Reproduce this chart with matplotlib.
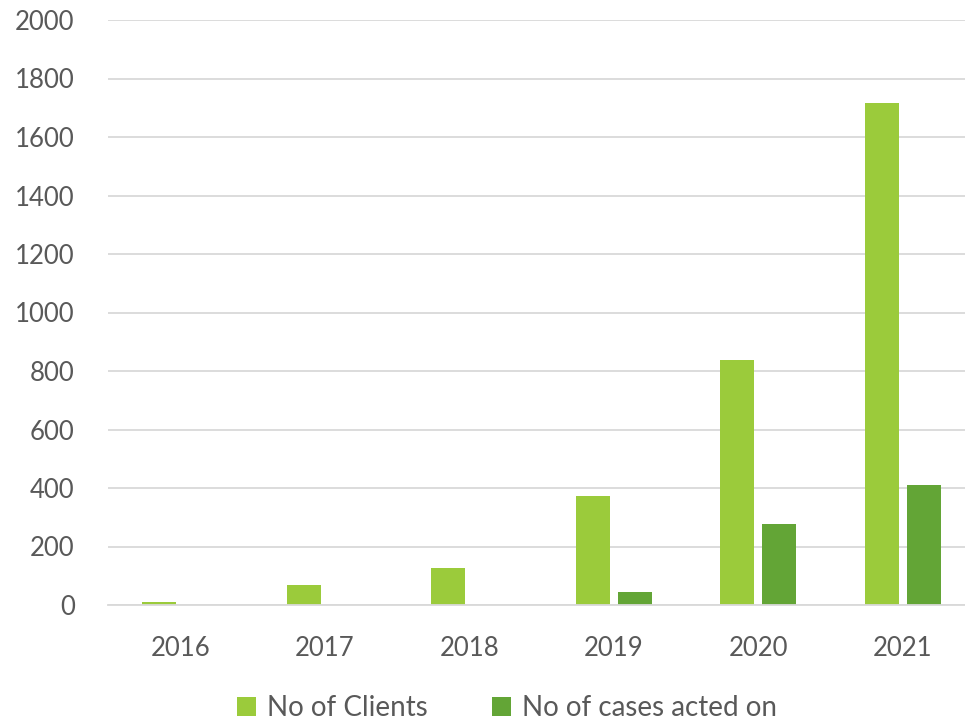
import matplotlib
matplotlib.use("Agg")
import matplotlib.pyplot as plt
import numpy as np

plt.rcParams.update({"font.family": ["Lato", "DejaVu Sans"], "font.size": 13})

years = ["2016", "2017", "2018", "2019", "2020", "2021"]
clients = [9, 68, 125, 373, 839, 1716]
cases = [0, 0, 0, 44, 278, 409]

LIGHT = "#9BCB3B"
DARK = "#63A536"
GRID = "#D9D9D9"
TXT = "#595959"

fig = plt.figure(figsize=(9.65, 7.22), dpi=100)
ax = fig.add_axes([108 / 965, 117 / 722, 867 / 965, 585 / 722])

x = np.arange(len(years))
w = 0.235
off = 0.145
ax.bar(x - off, clients, w, color=LIGHT, label="No of Clients", zorder=2)
ax.bar(x + off, cases, w, color=DARK, label="No of cases acted on", zorder=2)

ax.set_xlim(-0.5, 5.5)
ax.set_ylim(0, 2000)
ax.set_yticks(range(0, 2001, 200))
ax.yaxis.grid(True, color=GRID, lw=1.3, zorder=0)
ax.set_axisbelow(True)
for s in ["top", "right", "left"]:
    ax.spines[s].set_visible(False)
ax.spines["bottom"].set_color(GRID)
ax.spines["bottom"].set_linewidth(1.3)
ax.tick_params(axis="both", length=0, colors=TXT, labelsize=18.5)
ax.tick_params(axis="y", pad=24)
ax.tick_params(axis="x", pad=22)
ax.set_xticks(x)
ax.set_xticklabels(years)

leg = fig.legend(loc="center", bbox_to_anchor=(507 / 965, 1 - 708 / 722), ncol=2,
                 frameon=False, fontsize=20, handlelength=0.7, handleheight=0.7,
                 columnspacing=2.3, handletextpad=0.4)
for t in leg.get_texts():
    t.set_color(TXT)

fig.savefig("out.png", dpi=100, facecolor="white")
